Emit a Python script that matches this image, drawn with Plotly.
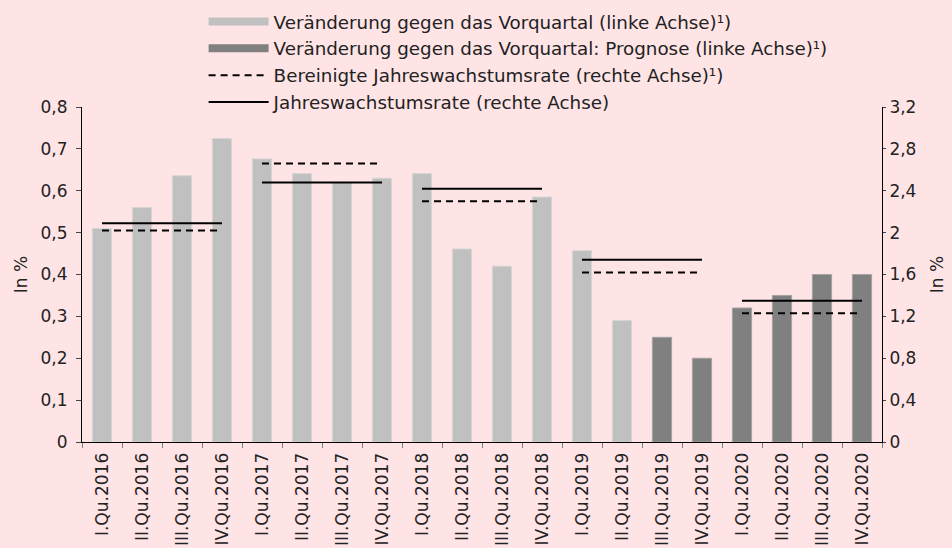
import plotly.graph_objects as go

quarters = ["I.Qu.2016", "II.Qu.2016", "III.Qu.2016", "IV.Qu.2016",
            "I.Qu.2017", "II.Qu.2017", "III.Qu.2017", "IV.Qu.2017",
            "I.Qu.2018", "II.Qu.2018", "III.Qu.2018", "IV.Qu.2018",
            "I.Qu.2019", "II.Qu.2019", "III.Qu.2019", "IV.Qu.2019",
            "I.Qu.2020", "II.Qu.2020", "III.Qu.2020", "IV.Qu.2020"]

actual_quarters = quarters[:14]
actual_values = [0.51, 0.56, 0.636, 0.725, 0.676, 0.641, 0.62, 0.63,
                 0.641, 0.461, 0.42, 0.585, 0.457, 0.29]

forecast_quarters = quarters[14:]
forecast_values = [0.25, 0.20, 0.32, 0.35, 0.40, 0.40]

years = ["2016", "2017", "2018", "2019", "2020"]
annual_rate = [2.09, 2.48, 2.42, 1.74, 1.35]
adjusted_rate = [2.02, 2.66, 2.30, 1.62, 1.23]

FONT = "DejaVu Sans"
BG = "#FFE4E6"
TXT = "#222222"

def segments(vals):
    xs, ys = [], []
    for yr, v in zip(years, vals):
        xs += [f"I.Qu.{yr}", f"IV.Qu.{yr}", None]
        ys += [v, v, None]
    return xs, ys

fig = go.Figure()

fig.add_trace(go.Bar(x=actual_quarters, y=actual_values, name="a",
                     marker=dict(color="#C0C0C0", line=dict(color="#D6D6D6", width=1)),
                     width=0.48, showlegend=False, legendgroup="g1"))
fig.add_trace(go.Bar(x=forecast_quarters, y=forecast_values, name="f",
                     marker=dict(color="#808080", line=dict(color="#A3A3A3", width=1)),
                     width=0.48, showlegend=False, legendgroup="g2"))

# legend swatches for the bars (wide rectangles)
fig.add_trace(go.Scatter(x=[None], y=[None], mode="lines",
                         line=dict(color="#C0C0C0", width=8),
                         name="Veränderung gegen das Vorquartal (linke Achse)¹)",
                         legendgroup="g1"))
fig.add_trace(go.Scatter(x=[None], y=[None], mode="lines",
                         line=dict(color="#808080", width=8),
                         name="Veränderung gegen das Vorquartal: Prognose (linke Achse)¹)",
                         legendgroup="g2"))

ax, ay = segments(adjusted_rate)
fig.add_trace(go.Scatter(x=ax, y=ay, mode="lines", yaxis="y2",
                         line=dict(color="black", width=2, dash="7px,5px"),
                         name="Bereinigte Jahreswachstumsrate (rechte Achse)¹)",
                         legendgroup="g3"))
sx, sy = segments(annual_rate)
fig.add_trace(go.Scatter(x=sx, y=sy, mode="lines", yaxis="y2",
                         line=dict(color="black", width=2),
                         name="Jahreswachstumsrate (rechte Achse)",
                         legendgroup="g4"))

fig.update_layout(
    width=952, height=548,
    paper_bgcolor=BG, plot_bgcolor=BG,
    font=dict(family=FONT, size=16, color=TXT),
    separators=",.",
    barmode="overlay",
    margin=dict(l=82, r=70, t=107, b=106, autoexpand=False),
    showlegend=True,
    legend=dict(x=0.152, y=1.31, xanchor="left", yanchor="top",
                bgcolor="rgba(0,0,0,0)", itemwidth=60, tracegroupgap=4,
                font=dict(size=18.3, family=FONT, color=TXT), traceorder="normal",
                itemclick=False, itemdoubleclick=False),
    xaxis=dict(type="category", categoryorder="array", categoryarray=quarters,
               tickangle=-90, tickson="boundaries", ticks="outside", ticklen=5,
               tickcolor="#808080", showline=True, linecolor="black", linewidth=1,
               showgrid=False, automargin=False, range=[-0.5, 19.5],
               ticklabelstandoff=3,
               tickfont=dict(size=17, family=FONT, color=TXT)),
    yaxis=dict(range=[0, 0.8], dtick=0.1, ticks="outside", ticklen=5,
               showline=True, linecolor="black", linewidth=1, showgrid=False,
               zeroline=False, automargin=False, ticklabelstandoff=5,
               title=dict(text="In %", standoff=8, font=dict(size=17)),
               tickfont=dict(size=17)),
    yaxis2=dict(range=[0, 3.2], dtick=0.4, ticks="outside", ticklen=3,
                overlaying="y", side="right",
                showline=True, linecolor="black", linewidth=1, showgrid=False,
                zeroline=False, automargin=False,
                title=dict(text="In %", standoff=15, font=dict(size=17)),
                tickfont=dict(size=17)),
)

fig.write_html("out.html", config={"displayModeBar": False},
               post_script="document.body.style.margin='0';document.body.style.padding='0';")
